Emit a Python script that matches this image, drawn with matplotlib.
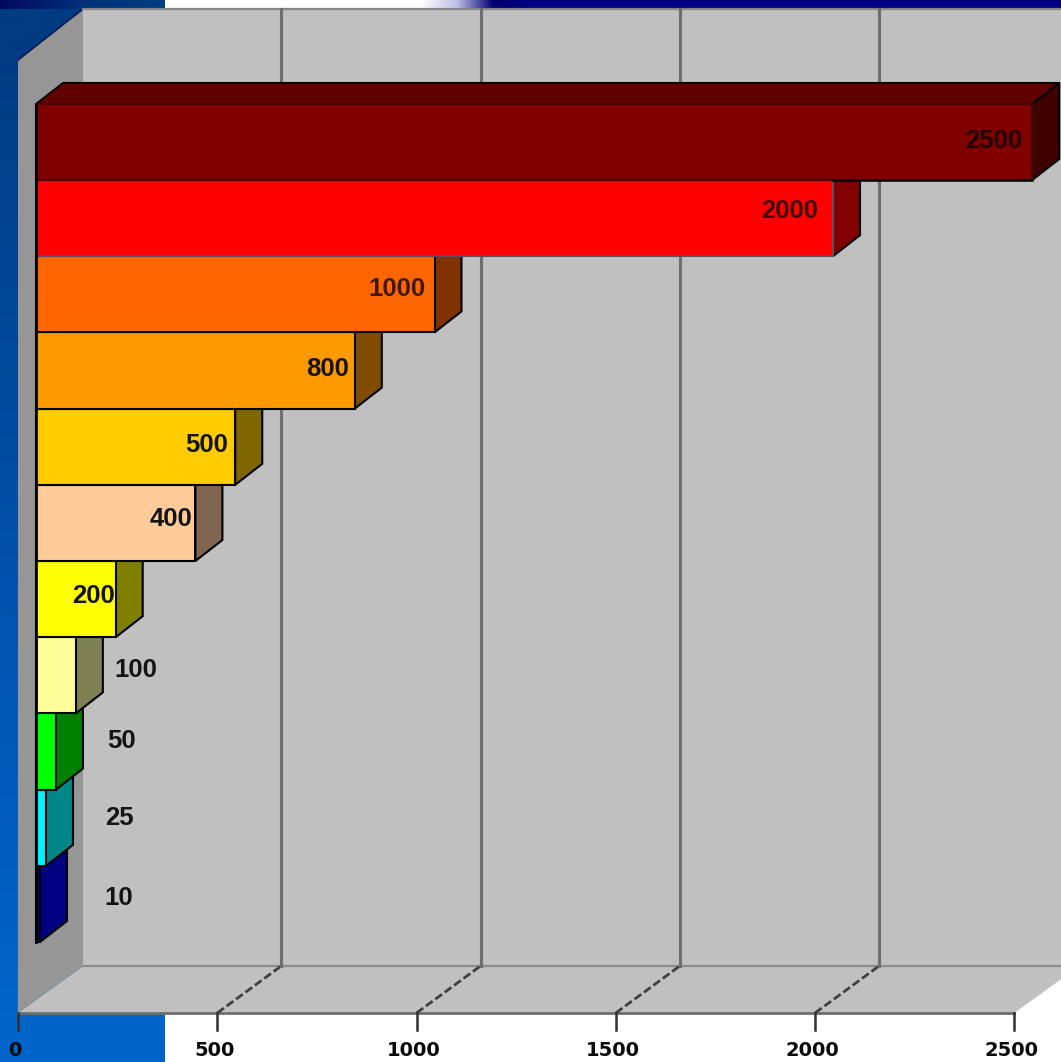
#!/usr/bin/env python
#
# Oblique 3D style horizontal bar chart, each bar is a front face
# plus a darker side and top face.
#

import numpy as np
import matplotlib
matplotlib.use("Agg")
import matplotlib.pyplot as plt
from matplotlib.colors import LinearSegmentedColormap, to_rgb
from matplotlib.patches import Polygon

values = [10, 25, 50, 100, 200, 400, 500, 800, 1000, 2000, 2500]
bar_colors = ['#000080', '#00f0ff', '#00ff00', '#ffff99', '#ffff00', '#ffcc99',
              '#ffcc00', '#ff9900', '#ff6600', '#ff0000', '#800000']
side_colors = ['#000080', '#008888', '#008000', '#808055', '#808000', '#806650',
               '#806600', '#804d00', '#803300', '#800000', '#400000']
edge_colors = ['black'] * 9 + ['#5a5060', '#4a0000']
value_ticks = [0, 500, 1000, 1500, 2000, 2500]
tick_labels = ['0', '500', '1000', '1500', '2000', '2500']

W, H = 1061, 1062
X0, XSCALE = 36.0, 0.3985      # px of value 0 on the bar plane, px per unit
Y0, YSTEP = 942.0, 76.2        # px of the first bar's foot, px per bar
BAR_DX, BAR_DY = 27.0, 21.0    # bar depth
FLOOR_PX = 1013.0              # px of the front edge of the floor
FRONT_DX = -18.0               # bar plane to front of the floor
BACK_DX, BACK_DY = 65.0, -47.0 # front of the floor to back wall
TOP_PX = 9.0


def px_x(dx):
    return dx / XSCALE


def px_y(dy):
    # screen px go down, category positions go up
    return -dy / YSTEP


def shift(points, dx, dy):
    return [(v + px_x(dx), c + px_y(dy)) for v, c in points]


def darker(color, f=0.5):
    return tuple(c * f for c in to_rgb(color))


fig = plt.figure(figsize=(W / 100, H / 100), dpi=100)
ax = fig.add_axes([0, 0, 1, 1])
ax.set_xlim(-X0 / XSCALE, (W - X0) / XSCALE)
ax.set_ylim((Y0 - H) / YSTEP, Y0 / YSTEP)
ax.axis('off')

xmin, xmax = ax.get_xlim()
ymin, ymax = ax.get_ylim()
n = len(values)

# slide background
ax.add_patch(plt.Rectangle((xmin, ymin), xmax - xmin, ymax - ymin, fc='white', ec='none', zorder=0))
blue = LinearSegmentedColormap.from_list('blue', ['#003a80', '#0050a8', '#0066cc'])
grad = np.linspace(0, 1, 256).reshape(-1, 1)
ax.imshow(grad, cmap=blue, aspect='auto', zorder=0.1,
          extent=(xmin, xmin + px_x(165), ymin, ymax), origin='upper')
band = LinearSegmentedColormap.from_list('band', ['#000a60', '#00307a', '#004080'])
ax.imshow(np.linspace(0, 1, 256).reshape(1, -1), cmap=band, aspect='auto', zorder=0.2,
          extent=(xmin, xmin + px_x(165), ymax + px_y(9), ymax))
fade = LinearSegmentedColormap.from_list('fade', ['#ffffff', '#c0c0e8', '#000070', '#000080'])
ax.imshow(np.linspace(0, 1, 256).reshape(1, -1), cmap=fade, aspect='auto', zorder=0.2,
          extent=(xmin + px_x(420), xmin + px_x(530), ymax + px_y(9), ymax))
ax.add_patch(plt.Rectangle((xmin + px_x(530), ymax + px_y(9)), xmax - xmin - px_x(530), px_y(-9),
                           fc='#000080', ec='none', zorder=0.3))
ax.set_xlim(xmin, xmax)
ax.set_ylim(ymin, ymax)

# box corners: front plane and back wall
front_bottom = (px_x(FRONT_DX), (Y0 - FLOOR_PX) / YSTEP)
back_bottom = shift([front_bottom], BACK_DX, BACK_DY)[0]
top_y = ymax + px_y(TOP_PX)
wall_top_front = top_y + px_y(51)
gray = '#c0c0c0'
line = '#6e6e6e'

# back wall, floor, side wall
ax.add_patch(Polygon([(back_bottom[0], top_y), (xmax, top_y), (xmax, back_bottom[1]),
                      (back_bottom[0], back_bottom[1])], fc=gray, ec='none', zorder=1))
right_front = front_bottom[0] + 2500 * 1.0
ax.add_patch(Polygon([front_bottom, (right_front, front_bottom[1]),
                      (right_front + px_x(65), back_bottom[1]), (xmax, back_bottom[1]),
                      back_bottom], fc=gray, ec='none', zorder=1))
ax.add_patch(Polygon([front_bottom, back_bottom, (back_bottom[0], top_y),
                      (front_bottom[0], wall_top_front)], fc='#969696', ec='none', zorder=1.1))
ax.plot([front_bottom[0], back_bottom[0]], [wall_top_front, top_y], color='#0a1a50', lw=1.2, zorder=1.2)

ax.plot([back_bottom[0], xmax], [top_y, top_y], color='#858585', lw=1.6, zorder=1.2)
ax.plot([back_bottom[0], xmax], [back_bottom[1]] * 2, color='#8c8c8c', lw=1.6, zorder=1.2)
ax.plot([front_bottom[0], right_front], [front_bottom[1]] * 2, color=line, lw=2, zorder=1.2)

# value axis: ticks, floor lines and wall grid
for v, lab in zip(value_ticks, tick_labels):
    fx = front_bottom[0] + v
    bx = fx + px_x(64)
    if 0 < v < 2500:
        ax.plot([fx, bx], [front_bottom[1], back_bottom[1]], color='#404040', lw=2,
                ls=(0, (3, 1.2)), zorder=1.3)
        ax.plot([bx, bx], [back_bottom[1], top_y], color=line, lw=2.2, zorder=1.3)
    ax.plot([fx, fx], [front_bottom[1], front_bottom[1] + px_y(17)], color='#303030', lw=1.8, zorder=1.3)
    ax.text(fx + px_x(-3), front_bottom[1] + px_y(37), lab, ha='center', va='center',
            fontsize=14, fontweight='bold', family='DejaVu Sans', color='#0a0a0a', zorder=5)

# bars, lowest first so each one covers the top face of the one beneath
for i, (v, col) in enumerate(zip(values, bar_colors)):
    ax.add_patch(Polygon([(0, i + 1), (v, i + 1)] + shift([(v, i + 1), (0, i + 1)], BAR_DX, -BAR_DY),
                         fc=darker(col, 0.75), ec='black', lw=1.2, zorder=2 + i * 0.1))
    ax.add_patch(Polygon([(v, i), (v, i + 1)] + shift([(v, i + 1), (v, i)], BAR_DX, -BAR_DY),
                         fc=side_colors[i], ec='black', lw=1.5, zorder=2 + i * 0.1))
    ax.add_patch(Polygon([(0, i), (v, i), (v, i + 1), (0, i + 1)],
                         fc=col, ec=edge_colors[i], lw=1.5, zorder=2.05 + i * 0.1))

# black foot of the top bar where it clears the bar below
ax.plot([values[-2], values[-1]], [n - 1, n - 1], color='black', lw=1.8, zorder=3.2)
ax.plot([0, 0], [0, n], color='black', lw=2, zorder=3.2)

# value labels, inside the bar once it is wide enough
label_nudge = [79, 73, 66, 60, -1, -3, -7, -6, -9, -15, -10]
label_lift = [6, 10, 10, 5, 3, 4, 2, 2, 5, 7, 1]
for i, v in enumerate(values):
    yc = i + 0.5 + label_lift[i] / YSTEP
    if v >= 200:
        color = darker(bar_colors[i], 0.25) if v >= 1000 else '#141414'
        ax.text(v + px_x(label_nudge[i]), yc, str(v), ha='right', va='center', fontsize=18.5,
                fontweight='bold', family='Liberation Sans', color=color, zorder=5)
    else:
        ax.text(v + px_x(label_nudge[i]), yc, str(v), ha='center', va='center', fontsize=18.5,
                fontweight='bold', family='Liberation Sans', color='#141414', zorder=5)

plt.savefig('out.png', dpi=100)
